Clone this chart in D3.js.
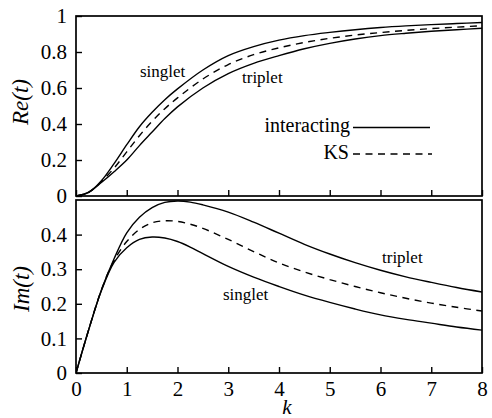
<!DOCTYPE html>
<html>
<head>
<meta charset="utf-8">
<script src="https://cdn.jsdelivr.net/npm/d3@7"></script>
<style>
  html, body { margin: 0; padding: 0; background: #fff; }
  svg { display: block; }
  svg text { font-family: "Liberation Serif", "Times New Roman", serif; }
</style>
</head>
<body>
<svg id="chart" width="492" height="418"></svg>
<script>
// ---- data ----
const kRe = [0, 0.25, 0.5, 0.75, 1, 1.25, 1.5, 1.75, 2, 2.5, 3, 3.5, 4, 4.5, 5, 5.5, 6, 6.5, 7, 7.5, 8];
const reSinglet = [0, 0.02, 0.085, 0.18, 0.285, 0.385, 0.465, 0.535, 0.595, 0.70, 0.78, 0.83, 0.866, 0.891, 0.909, 0.924, 0.936, 0.945, 0.952, 0.958, 0.964];
const reKS      = [0, 0.02, 0.08, 0.155, 0.245, 0.335, 0.415, 0.485, 0.545, 0.65, 0.73, 0.785, 0.823, 0.853, 0.876, 0.894, 0.908, 0.92, 0.93, 0.938, 0.946];
const reTriplet = [0, 0.022, 0.075, 0.135, 0.2, 0.28, 0.355, 0.43, 0.495, 0.60, 0.68, 0.737, 0.78, 0.818, 0.848, 0.872, 0.891, 0.904, 0.915, 0.924, 0.932];

const kIm = [0, 0.25, 0.5, 0.75, 1, 1.25, 1.5, 1.75, 2, 2.25, 2.5, 3, 3.5, 4, 4.5, 5, 5.5, 6, 6.5, 7, 7.5, 8];
const imTriplet = [0, 0.125, 0.24, 0.33, 0.405, 0.45, 0.478, 0.493, 0.497, 0.494, 0.486, 0.465, 0.436, 0.404, 0.372, 0.344, 0.319, 0.297, 0.278, 0.262, 0.247, 0.234];
const imKS      = [0, 0.125, 0.24, 0.325, 0.38, 0.415, 0.434, 0.44, 0.438, 0.43, 0.418, 0.386, 0.351, 0.318, 0.292, 0.27, 0.25, 0.232, 0.216, 0.202, 0.19, 0.179];
const imSinglet = [0, 0.125, 0.238, 0.32, 0.362, 0.386, 0.393, 0.39, 0.38, 0.364, 0.345, 0.308, 0.277, 0.25, 0.225, 0.204, 0.185, 0.168, 0.155, 0.144, 0.133, 0.124];

const xTicks = [0, 1, 2, 3, 4, 5, 6, 7, 8];
const reTicks = [0, 0.2, 0.4, 0.6, 0.8, 1];
const imTicks = [0, 0.1, 0.2, 0.3, 0.4];

// ---- layout ----
const svg = d3.select("#chart");
const L = 76, R = 482;
const topP = { y0: 16, y1: 196 };
const botP = { y0: 200, y1: 373 };

const x = d3.scaleLinear().domain([0, 8]).range([L, R]);
const yRe = d3.scaleLinear().domain([0, 1]).range([topP.y1, topP.y0]);
const yIm = d3.scaleLinear().domain([0, 0.5]).range([botP.y1, botP.y0]);

const fmt = d => d === 0 ? "0" : (d === 1 ? "1" : d3.format(".1f")(d));

const defs = svg.append("defs");
defs.append("clipPath").attr("id", "clipTop").append("rect")
  .attr("x", L).attr("y", topP.y0).attr("width", R - L).attr("height", topP.y1 - topP.y0);
defs.append("clipPath").attr("id", "clipBot").append("rect")
  .attr("x", L).attr("y", botP.y0).attr("width", R - L).attr("height", botP.y1 - botP.y0);

function styleText(sel, size, italic) {
  sel.attr("font-family", null).style("font-size", size + "px").attr("fill", "#000");
  if (italic) sel.style("font-style", "italic");
  return sel;
}

function drawAxes(y, ticks, p, showX) {
  const ax = svg.append("g").attr("transform", `translate(${L},0)`)
    .call(d3.axisLeft(y).tickValues(ticks).tickFormat(fmt).tickSizeInner(-6).tickSizeOuter(0).tickPadding(9));
  ax.attr("font-family", null);
  ax.select(".domain").remove();
  ax.selectAll("line").attr("stroke", "#000").attr("stroke-width", 1.4);
  styleText(ax.selectAll("text"), 21);

  const bx = svg.append("g").attr("transform", `translate(0,${p.y1})`)
    .call(d3.axisBottom(x).tickValues(xTicks).tickFormat(d3.format("d")).tickSizeInner(-6).tickSizeOuter(0).tickPadding(8));
  bx.attr("font-family", null);
  bx.select(".domain").remove();
  bx.selectAll("line").attr("stroke", "#000").attr("stroke-width", 1.4);
  styleText(bx.selectAll("text"), 21);
  if (!showX) bx.selectAll("text").remove();

  svg.append("rect").attr("x", L).attr("y", p.y0).attr("width", R - L).attr("height", p.y1 - p.y0)
    .attr("fill", "none").attr("stroke", "#000").attr("stroke-width", 1.7);
}

function drawCurve(ks, vals, y, clip, dashed) {
  const line = d3.line().x((d, i) => x(ks[i])).y(d => y(d)).curve(d3.curveCatmullRom.alpha(0.5));
  svg.append("path").datum(vals).attr("d", line)
    .attr("clip-path", `url(#${clip})`)
    .attr("fill", "none").attr("stroke", "#000").attr("stroke-width", 1.4)
    .attr("stroke-dasharray", dashed ? "7,5.5" : null);
}

drawCurve(kRe, reSinglet, yRe, "clipTop", false);
drawCurve(kRe, reKS, yRe, "clipTop", true);
drawCurve(kRe, reTriplet, yRe, "clipTop", false);
drawAxes(yRe, reTicks, topP, false);

drawCurve(kIm, imTriplet, yIm, "clipBot", false);
drawCurve(kIm, imKS, yIm, "clipBot", true);
drawCurve(kIm, imSinglet, yIm, "clipBot", false);
drawAxes(yIm, imTicks, botP, true);

function label(x0, y0, str, size, opts = {}) {
  const t = svg.append("text").attr("x", x0).attr("y", y0).text(str);
  if (opts.anchor) t.attr("text-anchor", opts.anchor);
  if (opts.transform) t.attr("transform", opts.transform);
  styleText(t, size, opts.italic);
  return t;
}

// axis labels
label(0, 0, "Re(t)", 23, { anchor: "middle", italic: true, transform: "translate(28,102) rotate(-90)" });
label(0, 0, "Im(t)", 23, { anchor: "middle", italic: true, transform: "translate(29,289) rotate(-90)" });
label(287, 414, "k", 21, { anchor: "middle", italic: true });

// curve annotations
label(140, 77, "singlet", 17);
label(242, 83, "triplet", 17);
label(382, 263, "triplet", 17);
label(223, 300, "singlet", 17);

// legend
label(350, 132, "interacting", 20, { anchor: "end" });
svg.append("line").attr("x1", 353).attr("x2", 430).attr("y1", 127.5).attr("y2", 127.5)
  .attr("stroke", "#000").attr("stroke-width", 1.4);
label(349, 159, "KS", 20, { anchor: "end" });
svg.append("line").attr("x1", 353).attr("x2", 432).attr("y1", 154).attr("y2", 154)
  .attr("stroke", "#000").attr("stroke-width", 1.4).attr("stroke-dasharray", "7,5.5");
</script>
</body>
</html>
